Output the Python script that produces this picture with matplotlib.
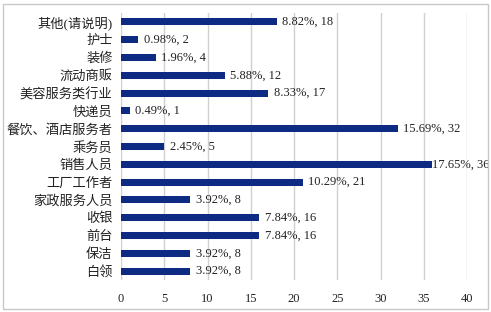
import matplotlib
matplotlib.use("Agg")
import matplotlib.pyplot as plt
from matplotlib.patches import Rectangle

categories = ["其他(请说明)", "护士", "装修", "流动商贩", "美容服务类行业", "快递员",
              "餐饮、酒店服务者", "乘务员", "销售人员", "工厂工作者", "家政服务人员",
              "收银", "前台", "保洁", "白领"]
counts = [18, 2, 4, 12, 17, 1, 32, 5, 36, 21, 8, 16, 16, 8, 8]
percents = [8.82, 0.98, 1.96, 5.88, 8.33, 0.49, 15.69, 2.45, 17.65, 10.29, 3.92,
            7.84, 7.84, 3.92, 3.92]
xticks = [0, 5, 10, 15, 20, 25, 30, 35, 40]

fam = ["Liberation Serif", "Noto Sans CJK SC", "DejaVu Sans"]
plt.rcParams["font.family"] = fam

fig = plt.figure(figsize=(4.91, 3.12), dpi=100)
ax = fig.add_axes([121/491, 1-280/312, (467-121)/491, (280-13)/312])

ypos = list(range(len(categories)))
ax.barh(ypos, counts, height=0.4, color="#0d2b82", zorder=3)
cmax = max(counts)
for y, c, p in zip(ypos, counts, percents):
    off = 0 if c == cmax else 4
    ax.annotate(f"{p:.2f}%, {c}", xy=(c, y), xytext=(off, 0), textcoords="offset points",
                va="center", ha="left", fontsize=9, color="#222222", zorder=4)

ax.set_ylim(len(categories)-0.5, -0.5)
ax.set_xlim(0, 40)
ax.set_xticks(xticks)
ax.set_yticks(ypos)
ax.set_yticklabels(categories, fontsize=9.5, color="#222222")
ax.tick_params(axis="x", labelsize=9, colors="#222222", length=0, pad=9)
ax.tick_params(axis="y", length=0, pad=6)
for s in ax.spines.values():
    s.set_visible(False)
ax.grid(axis="x", color="#d0d0d0", linewidth=1, zorder=0)
ax.set_axisbelow(True)

fig.patches.append(Rectangle((3/491, 3/312), 485/491, 305/312, transform=fig.transFigure,
                             fill=False, edgecolor="#c8c8c8", linewidth=1))

fig.savefig("out.png", dpi=100)
